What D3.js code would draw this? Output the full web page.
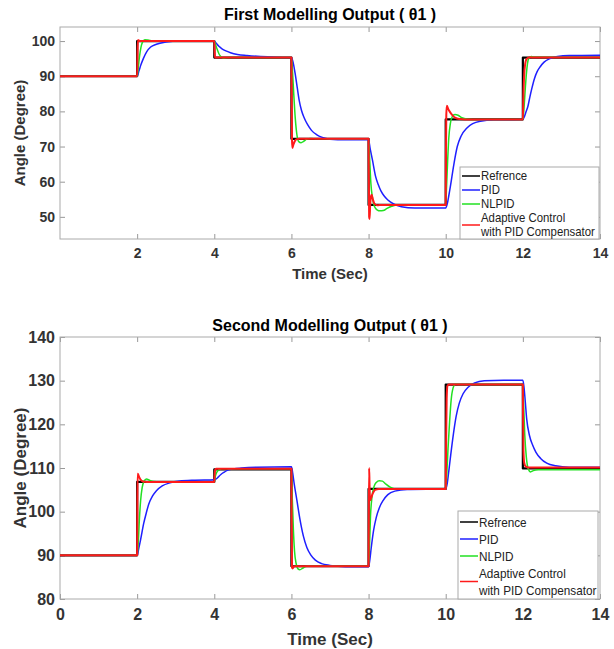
<!DOCTYPE html>
<html>
<head>
<meta charset="utf-8">
<script src="https://cdn.jsdelivr.net/npm/d3@7"></script>
<style>
  body { margin: 0; background: #fff; }
  svg { font-family: "Liberation Sans", Arial, sans-serif; }
</style>
</head>
<body>
<div id="my_dataviz"></div>
<script>
// ---- data ----
var stepTimes = [0, 2, 4, 6, 8, 10, 12, 14]
var seriesNames = ["Refrence", "PID", "NLPID", "Adaptive Control", "with PID Compensator"]

// first modelling output
var ref1 = [90, 100, 95.3, 72.2, 53.4, 77.7, 95.3]
var pid1 = [[0,90],[2,90],[2.05,91.6],[2.1,93.3],[2.16,95],[2.25,97],[2.35,98.3],[2.5,99.1],[2.75,99.7],[3.1,100],[4,100],
  [4.05,99.4],[4.12,98.5],[4.2,97.8],[4.3,97.2],[4.42,96.7],[4.6,96.2],[4.85,95.9],[5.2,95.6],[5.6,95.4],[6,95.3],
  [6.05,93.6],[6.1,90.5],[6.15,86.8],[6.2,83.2],[6.26,80.3],[6.33,78.2],[6.42,76.2],[6.52,74.6],[6.65,73.4],[6.8,72.6],[7,72.1],[7.4,71.9],[8,71.9],
  [8.04,69.5],[8.1,66.2],[8.18,61.6],[8.25,59.2],[8.32,57.4],[8.4,56],[8.5,54.8],[8.65,53.7],[8.85,52.9],[9.2,52.5],[10,52.5],
  [10.04,53.7],[10.08,56],[10.12,58.6],[10.16,61.4],[10.22,65.5],[10.3,70],[10.4,73],[10.55,75.3],[10.7,76.5],[10.9,77.2],[11.25,77.6],[12,77.7],
  [12.04,78.5],[12.08,79.8],[12.13,81.4],[12.18,84],[12.23,86.4],[12.3,89.3],[12.37,91.3],[12.45,92.7],[12.55,94],[12.7,95],[12.9,95.6],[13.2,95.9],[14,96]]
var nlpid1 = [[0,90],[2,90],[2.03,92.5],[2.06,95.5],[2.1,98.3],[2.14,99.7],[2.2,100.4],[2.28,100.3],[2.4,100.05],[2.6,100],[4,100],
  [4.03,99.1],[4.07,97.8],[4.12,96.4],[4.17,95.6],[4.23,95.2],[4.35,95.3],[6,95.3],
  [6.03,91],[6.06,85],[6.1,78],[6.14,73.5],[6.19,71.4],[6.25,71.1],[6.32,71.5],[6.4,72.1],[6.5,72.3],[6.65,72.2],[8,72.2],
  [8.03,66],[8.06,59.5],[8.1,55.5],[8.15,53],[8.22,52],[8.3,51.7],[8.38,51.8],[8.48,52.4],[8.6,53],[8.75,53.4],[10,53.4],
  [10.02,58],[10.05,66],[10.08,72.5],[10.12,76.5],[10.17,78.5],[10.24,79.1],[10.32,78.9],[10.42,78.2],[10.55,77.8],[10.7,77.7],[12,77.7],
  [12.03,81],[12.06,86],[12.09,90.5],[12.12,93.6],[12.16,95.2],[12.22,95.6],[12.32,95.4],[14,95.3]]
var adapt1 = [[0,90],[2,90],[2.01,97],[2.02,100.3],[2.05,100.1],[2.1,100],[4,100],
  [4.01,97],[4.02,95.3],[6,95.3],
  [6.005,85],[6.015,72],[6.025,69.6],[6.05,70.5],[6.09,71.6],[6.14,72.1],[6.2,72.2],[8,72.2],
  [8.005,62],[8.015,50],[8.025,49.4],[8.04,53],[8.06,55.8],[8.08,56.3],[8.11,55],[8.15,53.8],[8.22,53.3],[8.35,53.4],[10,53.4],
  [10.005,66],[10.015,79],[10.03,81.6],[10.06,80.8],[10.1,80],[10.16,79.1],[10.24,78.2],[10.35,77.8],[10.5,77.7],[12,77.7],
  [12.01,83],[12.03,89.5],[12.06,93.5],[12.1,95],[12.18,95.4],[12.3,95.3],[14,95.3]]

// second modelling output
var ref2 = [90, 106.8, 109.7, 87.5, 105.2, 129.1, 109.9]
var pid2 = [[0,90],[2,90],[2.04,91.5],[2.09,93.6],[2.17,97.3],[2.24,99.8],[2.3,101.7],[2.4,103.6],[2.5,104.8],[2.65,105.9],[2.85,106.6],[3.1,107],[3.5,107.2],[4,107.3],
  [4.05,107.5],[4.1,107.9],[4.17,108.5],[4.25,109],[4.35,109.5],[4.5,109.8],[4.7,110],[5.1,110.2],[6,110.3],
  [6.03,109],[6.07,106.5],[6.14,102.7],[6.22,98.3],[6.31,94.4],[6.4,91.8],[6.5,90.1],[6.62,88.9],[6.78,88.1],[7,87.7],[7.4,87.4],[8,87.4],
  [8.03,88.8],[8.07,91.8],[8.13,95.7],[8.2,98.7],[8.28,100.9],[8.38,102.6],[8.5,103.9],[8.68,104.7],[9,105.1],[10,105.2],
  [10.04,106.5],[10.08,109.3],[10.13,113],[10.2,117.8],[10.27,121.8],[10.35,124.8],[10.45,127],[10.58,128.5],[10.75,129.5],[11,130],[11.5,130.1],[12,130.1],
  [12.03,128.5],[12.06,125.5],[12.1,121.2],[12.17,117.5],[12.25,115.3],[12.34,113.6],[12.46,112.2],[12.62,111.1],[12.85,110.5],[13.2,110.2],[14,110.2]]
var nlpid2 = [[0,90],[2,90],[2.03,93],[2.06,98.5],[2.09,102.5],[2.13,105.5],[2.18,107],[2.24,107.5],[2.32,107.2],[2.42,106.9],[2.6,106.8],[4,106.8],
  [4.03,108.2],[4.07,109.1],[4.12,109.6],[4.2,109.8],[6,109.8],
  [6.02,103.5],[6.05,96],[6.08,91],[6.12,88.2],[6.17,86.9],[6.22,86.7],[6.3,87.1],[6.4,87.5],[8,87.5],
  [8.02,91],[8.05,99],[8.09,103.5],[8.14,105.7],[8.2,106.7],[8.28,107.1],[8.36,107],[8.45,106.3],[8.56,105.6],[8.7,105.2],[10,105.2],
  [10.03,109],[10.06,114.5],[10.1,120.5],[10.14,125.5],[10.19,128.3],[10.25,129.2],[10.35,129.1],[12,129.1],
  [12.02,124.5],[12.05,117.5],[12.09,112.5],[12.14,109.8],[12.2,109.1],[12.27,109.4],[12.4,109.6],[14,109.6]]
var adapt2 = [[0,90],[2,90],[2.005,100],[2.012,108.7],[2.03,108.4],[2.06,107.8],[2.1,107.2],[2.15,106.9],[2.25,106.8],[4,106.8],
  [4.01,108.5],[4.025,109.6],[4.05,109.8],[6,109.8],
  [6.005,98],[6.015,87.2],[6.03,87],[6.06,87.4],[6.1,87.5],[8,87.5],
  [8.005,98],[8.015,110],[8.025,106],[8.04,102.6],[8.07,103.2],[8.11,104.2],[8.17,105],[8.27,105.2],[10,105.2],
  [10.01,116],[10.025,126],[10.045,128.8],[10.08,129.1],[12,129.1],
  [12.005,122],[12.015,114],[12.035,111.2],[12.07,110.4],[12.15,110.1],[14,110.1]]

var xTicks1 = [2, 4, 6, 8, 10, 12, 14]
var xTicks2 = [0, 2, 4, 6, 8, 10, 12, 14]
var yTicks1 = [50, 60, 70, 80, 90, 100]
var yTicks2 = [80, 90, 100, 110, 120, 130, 140]

var colors = ["#000000", "#1f1fff", "#22e022", "#ff1a1a"]
var widths = [2.2, 1.5, 1.5, 2]

var svg = d3.select("#my_dataviz")
  .append("svg")
  .attr("width", 614)
  .attr("height", 649)

function drawChart(opt) {
  var x = d3.scaleLinear().domain([0, 14]).range([60, 600])
  var y = d3.scaleLinear().domain(opt.yDomain).range([opt.bottom, opt.top])
  var g = svg.append("g")

  // title
  g.append("text")
    .attr("x", 330).attr("y", opt.titleY)
    .attr("text-anchor", "middle")
    .style("font-size", "16px").style("font-weight", "bold")
    .text(opt.title)

  // axes, ticks inside like matlab
  g.append("g")
    .attr("transform", "translate(0," + opt.bottom + ")")
    .call(d3.axisBottom(x).tickValues(opt.xTicks).tickSizeInner(-5).tickSizeOuter(0).tickPadding(opt.xPad))
  g.append("g")
    .attr("transform", "translate(0," + opt.top + ")")
    .call(d3.axisTop(x).tickValues(opt.xTicks).tickSizeInner(-5).tickSizeOuter(0).tickFormat(""))
  g.append("g")
    .attr("transform", "translate(60,0)")
    .call(d3.axisLeft(y).tickValues(opt.yTicks).tickSizeInner(-5).tickSizeOuter(0).tickPadding(5))
  g.append("g")
    .attr("transform", "translate(600,0)")
    .call(d3.axisRight(y).tickValues(opt.yTicks).tickSizeInner(-5).tickSizeOuter(0).tickFormat(""))

  g.selectAll(".domain").remove()
  g.selectAll(".tick line").attr("stroke", "#999")
  g.selectAll(".tick text")
    .attr("fill", "#333")
    .style("font-size", opt.tickFont)
    .style("font-weight", "bold")
    .style("font-family", '"Liberation Sans", Arial, sans-serif')

  g.append("rect")
    .attr("x", 60).attr("y", opt.top)
    .attr("width", 540).attr("height", opt.bottom - opt.top)
    .attr("fill", "none").attr("stroke", "#aaa")

  // axis labels
  g.append("text")
    .attr("x", 330).attr("y", opt.xLabelY)
    .attr("text-anchor", "middle")
    .attr("fill", "#333")
    .style("font-size", opt.labelFont).style("font-weight", "bold")
    .text("Time (Sec)")
  g.append("text")
    .attr("transform", "translate(" + opt.yLabelX + "," + ((opt.top + opt.bottom) / 2) + ") rotate(-90)")
    .attr("text-anchor", "middle")
    .attr("fill", "#333")
    .style("font-size", opt.labelFont).style("font-weight", "bold")
    .text("Angle (Degree)")

  // reference as a step line
  var refPts = stepTimes.slice(0, -1).map(function(t, i) { return [t, opt.ref[i]] })
  refPts.push([14, opt.ref[opt.ref.length - 1]])

  var stepLine = d3.line().x(function(d) { return x(d[0]) }).y(function(d) { return y(d[1]) }).curve(d3.curveStepAfter)
  var smoothLine = d3.line().x(function(d) { return x(d[0]) }).y(function(d) { return y(d[1]) }).curve(d3.curveMonotoneX)

  var lines = [refPts, opt.pid, opt.nlpid, opt.adapt]
  lines.forEach(function(pts, i) {
    g.append("path")
      .datum(pts)
      .attr("fill", "none")
      .attr("stroke", colors[i])
      .attr("stroke-width", widths[i])
      .attr("stroke-linejoin", "round")
      .attr("d", i === 0 ? stepLine : smoothLine)
  })

  // legend
  var L = opt.legend
  var lg = g.append("g")
  lg.append("rect")
    .attr("x", L.x).attr("y", L.y)
    .attr("width", L.w).attr("height", L.h)
    .attr("fill", "#fff").attr("stroke", "#aaa")
  var rows = [0, 1, 2, 3, 4]
  rows.forEach(function(r) {
    var cy = L.y + L.first + r * L.step
    // text is a bit condensed in the original
    lg.append("text")
      .attr("transform", "translate(" + (L.x + 21) + "," + cy + ") scale(" + L.sx + ",1)")
      .attr("dy", "0.35em")
      .attr("fill", "#222")
      .style("font-size", L.font)
      .text(seriesNames[r])
  })
  for (var i = 0; i < 4; i++) {
    var ly = i < 3 ? L.y + L.first + i * L.step : L.y + L.first + 3.5 * L.step
    lg.append("line")
      .attr("x1", L.x + 2).attr("x2", L.x + 20)
      .attr("y1", ly).attr("y2", ly)
      .attr("stroke", colors[i])
      .attr("stroke-width", 1.5)
  }
}

drawChart({
  title: "First Modelling Output ( θ1 )", titleY: 20,
  top: 27, bottom: 239, yDomain: [43.7, 104],
  xTicks: xTicks1, yTicks: yTicks1, xPad: 9,
  tickFont: "14px", labelFont: "15px", xLabelY: 279, yLabelX: 25,
  ref: ref1, pid: pid1, nlpid: nlpid1, adapt: adapt1,
  legend: {x: 460, y: 167, w: 139, h: 72, first: 9, step: 14, font: "12px", sx: 0.95}
})

drawChart({
  title: "Second Modelling Output ( θ1 )", titleY: 331,
  top: 337, bottom: 599, yDomain: [80, 140],
  xTicks: xTicks2, yTicks: yTicks2, xPad: 10,
  tickFont: "16px", labelFont: "17px", xLabelY: 645, yLabelX: 26,
  ref: ref2, pid: pid2, nlpid: nlpid2, adapt: adapt2,
  legend: {x: 458, y: 511, w: 140, h: 88, first: 11, step: 17, font: "13.5px", sx: 0.87}
})
</script>
</body>
</html>
